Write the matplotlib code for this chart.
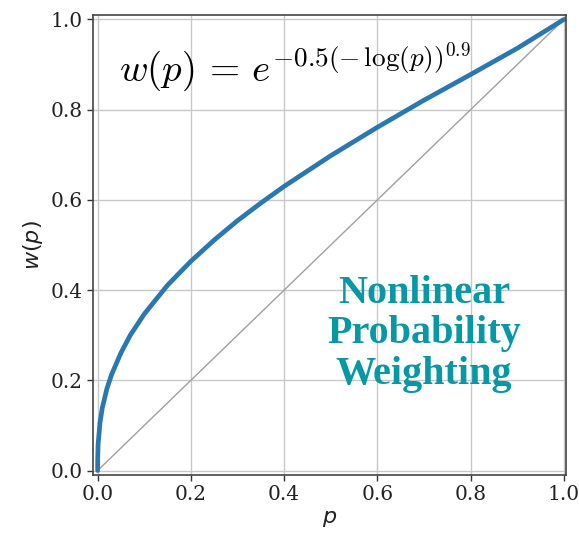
import matplotlib
matplotlib.use("Agg")
import matplotlib.pyplot as plt

# points
p_vals = [0.0, 0.0001, 0.001, 0.005, 0.01, 0.02, 0.03, 0.05, 0.07, 0.1, 0.15,
          0.2, 0.25, 0.3, 0.35, 0.4, 0.5, 0.6, 0.7, 0.8, 0.9, 1.0]
w_vals = [0.0, 0.025, 0.058, 0.106, 0.139, 0.182, 0.213, 0.261, 0.300, 0.347, 0.411,
          0.464, 0.511, 0.554, 0.593, 0.630, 0.698, 0.761, 0.821, 0.878, 0.936, 1.0]
diag = [0.0, 1.0]
ticks = [0.0, 0.2, 0.4, 0.6, 0.8, 1.0]

fig = plt.figure(figsize=(5.79, 5.35), dpi=100)
ax = fig.add_axes([0.1606, 0.1121, 0.8164, 0.8599])

ax.plot(diag, diag, color='#a0a0a0', linewidth=1.0)
ax.plot(p_vals, w_vals, color='#2a78b0', linewidth=3.4, solid_capstyle='round')

ax.set_xlim(-0.01, 1.004)
ax.set_ylim(-0.01, 1.01)
ax.set_xticks(ticks)
ax.set_yticks(ticks)
ax.set_xticklabels([f"{t:.1f}" for t in ticks], family='DejaVu Serif', fontsize=14.5)
ax.set_yticklabels([f"{t:.1f}" for t in ticks], family='DejaVu Serif', fontsize=14.5)
ax.tick_params(direction='out', length=4, width=1, color='#333333', labelcolor='#222222')
ax.grid(True, color='#c8c8c8', linewidth=1.0)
for s in ax.spines.values():
    s.set_color('#444444')
    s.set_linewidth(1.2)

ax.set_xlabel('$p$', fontsize=16, labelpad=3, color='#222222')
ax.set_ylabel('$w(p)$', fontsize=16, labelpad=4, color='#222222')
ax.xaxis.label.set_math_fontfamily('dejavusans')
ax.yaxis.label.set_math_fontfamily('dejavusans')

ax.text(0.045, 0.895, r'$w(p)\,=\,e^{-0.5(-\,\log(p))^{0.9}}$', fontsize=28,
        ha='left', va='center', color='black', math_fontfamily='cm')

ax.text(0.70, 0.303, 'Nonlinear\nProbability\nWeighting', fontsize=29,
        family='Liberation Serif', fontweight='bold', color='#0798a6',
        ha='center', va='center', linespacing=1.12)

fig.savefig('out.png', dpi=100)
